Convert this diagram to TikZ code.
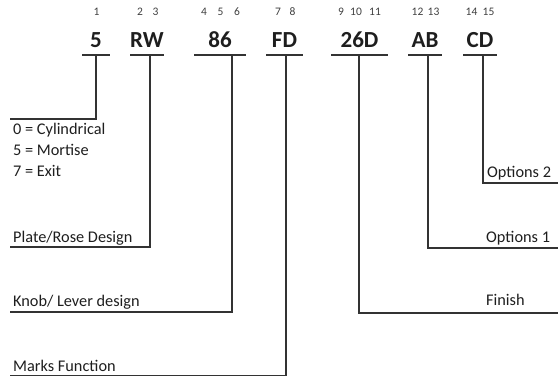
\documentclass[tikz,border=0pt]{standalone}
\usepackage{fontspec}
\setmainfont{Carlito}
\definecolor{ink}{HTML}{1E1E1E}
\definecolor{lin}{HTML}{333333}
\begin{document}
\begin{tikzpicture}[x=1pt,y=-1pt,
  code/.style={font=\fontsize{23}{25}\selectfont\bfseries,text=ink,anchor=base,inner sep=0pt},
  posnum/.style={font=\fontsize{11.5}{13}\selectfont,text=ink!85,anchor=base,inner sep=0pt},
  lab/.style={font=\fontsize{16.3}{19}\selectfont,text=ink,anchor=base west,inner sep=0pt},
  ln/.style={draw=lin,line width=1.2pt}]
\useasboundingbox (0,0) rectangle (558,377);
% position digits
\foreach \n/\x in {1/96.5,2/140,3/155.5,4/204,5/220.5,6/237,7/278,8/292.5,9/341,10/356,11/375,12/417.5,13/433.5,14/471.5,15/488.5}
  \node[posnum] (d\n) at (\x,15.5) {\n};
% codes
\node[code] (c1) at (96,48) {5};
\node[code] (c2) at (147,48) {RW};
\node[code] (c3) at (220,48) {86};
\node[code] (c4) at (284.5,48) {FD};
\node[code] (c5) at (359.5,48) {26D};
\node[code] (c6) at (425,48) {AB};
\node[code] (c7) at (480,48) {CD};
% underlines
\coordinate (u1a) at (82,55);  \coordinate (u1b) at (110,55);
\coordinate (u2a) at (130,55); \coordinate (u2b) at (164,55);
\coordinate (u3a) at (194,55); \coordinate (u3b) at (246,55);
\coordinate (u4a) at (266,55); \coordinate (u4b) at (303,55);
\coordinate (u5a) at (331,55); \coordinate (u5b) at (388,55);
\coordinate (u6a) at (408,55); \coordinate (u6b) at (442,55);
\coordinate (u7a) at (463,55); \coordinate (u7b) at (497,55);
\foreach \i in {1,...,7} \draw[ln] (u\i a) -- (u\i b);
% stems
\coordinate (s1) at (96,55);  \coordinate (e1) at (10,119);
\coordinate (s2) at (150,55); \coordinate (e2) at (10,247);
\coordinate (s3) at (232,55); \coordinate (e3) at (10,312);
\coordinate (s4) at (286,55); \coordinate (e4) at (10,375.6);
\coordinate (s5) at (359,55); \coordinate (e5) at (558,313);
\coordinate (s6) at (428,55); \coordinate (e6) at (558,248);
\coordinate (s7) at (483,55); \coordinate (e7) at (558,183);
\foreach \i in {1,...,7} \draw[ln,line join=miter] (s\i) |- (e\i);
% labels
\node[lab] (l0) at (13,135) {0 = Cylindrical};
\node[lab] (l5) at (13,156) {5 = Mortise};
\node[lab] (l7) at (13,177) {7 = Exit};
\node[lab] (lp) at (13,243) {Plate/Rose Design};
\node[lab] (lk) at (13,307) {Knob/ Lever design};
\node[lab] (lm) at (13,371.5) {Marks Function};
\node[lab] (lo2) at (487,178) {Options 2};
\node[lab] (lo1) at (486,243) {Options 1};
\node[lab] (lf) at (486,306) {Finish};
\end{tikzpicture}
\end{document}
